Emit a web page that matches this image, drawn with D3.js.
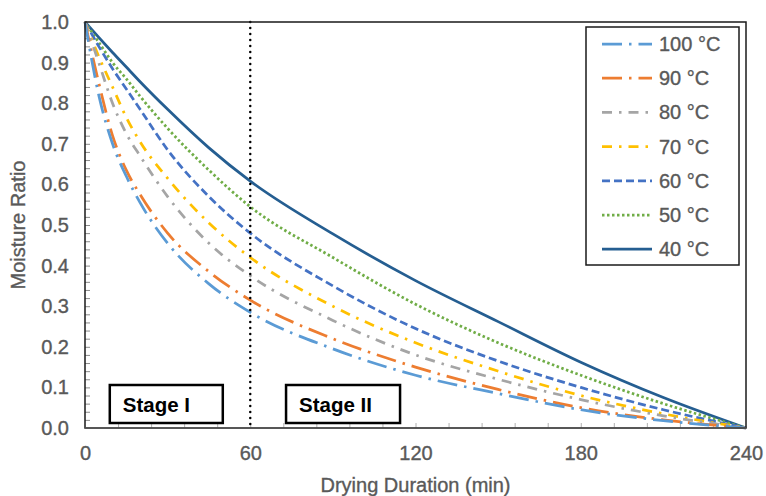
<!DOCTYPE html>
<html>
<head>
<meta charset="utf-8">
<script src="https://cdn.jsdelivr.net/npm/d3@7"></script>
<style>
  body { margin: 0; background: #fff; }
  text { font-family: "Liberation Sans", Arial, sans-serif; }
  .lbl { fill: #595959; stroke: #595959; stroke-width: 0.35px; font-size: 20px; }
</style>
</head>
<body>
<div id="chart"></div>
<script>

// drying time (min)
var times = [0, 5, 10, 15, 20, 30, 45, 60, 90, 120, 150, 180, 210, 240];

// moisture ratio per drying temperature
var mr100 = [1.0, 0.82, 0.70, 0.62, 0.555, 0.455, 0.355, 0.285, 0.195, 0.13, 0.085, 0.045, 0.018, 0];
var mr90  = [1.0, 0.85, 0.72, 0.635, 0.575, 0.48, 0.385, 0.315, 0.22, 0.15, 0.095, 0.05, 0.02, 0];
var mr80  = [1.0, 0.90, 0.80, 0.725, 0.67, 0.57, 0.455, 0.375, 0.265, 0.18, 0.12, 0.07, 0.03, 0];
var mr70  = [1.0, 0.915, 0.84, 0.765, 0.705, 0.615, 0.505, 0.42, 0.30, 0.21, 0.14, 0.08, 0.035, 0];
var mr60  = [1.0, 0.94, 0.885, 0.835, 0.785, 0.685, 0.57, 0.48, 0.35, 0.245, 0.165, 0.10, 0.045, 0];
var mr50  = [1.0, 0.95, 0.90, 0.86, 0.817, 0.738, 0.635, 0.545, 0.42, 0.305, 0.21, 0.13, 0.06, 0];
var mr40  = [1.0, 0.962, 0.925, 0.889, 0.853, 0.785, 0.69, 0.608, 0.478, 0.363, 0.262, 0.162, 0.075, 0];

var seriesNames = ["100 \u00B0C", "90 \u00B0C", "80 \u00B0C", "70 \u00B0C", "60 \u00B0C", "50 \u00B0C", "40 \u00B0C"];
var seriesValues = [mr100, mr90, mr80, mr70, mr60, mr50, mr40];

var xTicks = [0, 60, 120, 180, 240];
var yTicks = [0, 0.1, 0.2, 0.3, 0.4, 0.5, 0.6, 0.7, 0.8, 0.9, 1.0];
var stageLabels = ["Stage I", "Stage II"];

// line looks (excel style dash types)
var styles = [
  { color: "#5B9BD5", dash: "20,7,2.5,7" },
  { color: "#ED7D31", dash: "20,7,2.5,7" },
  { color: "#A5A5A5", dash: "10,7,2.5,7" },
  { color: "#FFC000", dash: "10,7,2.5,7" },
  { color: "#4472C4", dash: "8,4" },
  { color: "#70AD47", dash: "2.5,2.5" },
  { color: "#255E91", dash: null }
];

var margin = {top: 22, right: 20, bottom: 68, left: 85},
    width = 746 - margin.left,
    height = 428 - margin.top;

var svg = d3.select("#chart")
  .append("svg")
    .attr("width", 766)
    .attr("height", 496)
  .append("g")
    .attr("transform", "translate(" + margin.left + "," + margin.top + ")");

var x = d3.scaleLinear().domain([0, 240]).range([0, width]);
var y = d3.scaleLinear().domain([0, 1]).range([height, 0]);

// minor tick marks pointing into the plot
svg.append("g")
  .attr("transform", "translate(0," + height + ")")
  .call(d3.axisBottom(x).tickValues(d3.range(12, 240, 12)).tickSize(-5).tickFormat(""))
  .call(function(g) { g.select(".domain").remove(); })
  .selectAll("line").attr("stroke", "#b0b0b0").attr("stroke-width", 1);

svg.append("g")
  .call(d3.axisLeft(y).tickValues(d3.range(0.02, 1, 0.02)).tickSize(-5).tickFormat(""))
  .call(function(g) { g.select(".domain").remove(); })
  .selectAll("line").attr("stroke", "#8a8a8a").attr("stroke-width", 1);

// tick labels
var xAxis = svg.append("g")
  .attr("transform", "translate(0," + height + ")")
  .call(d3.axisBottom(x).tickValues(xTicks).tickSize(0).tickPadding(18).tickFormat(d3.format("d")));
xAxis.select(".domain").remove();

var yAxis = svg.append("g")
  .call(d3.axisLeft(y).tickValues(yTicks).tickSize(0).tickPadding(16).tickFormat(d3.format(".1f")));
yAxis.select(".domain").remove();

svg.selectAll(".tick text")
  .attr("class", "lbl")
  .attr("fill", null);

// curves
var line = d3.line()
  .x(function(d) { return x(d[0]); })
  .y(function(d) { return y(d[1]); })
  .curve(d3.curveMonotoneX);

for (var i = seriesValues.length - 1; i >= 0; i--) {
  var pts = times.map(function(t, j) { return [t, seriesValues[i][j]]; });
  svg.append("path")
    .datum(pts)
    .attr("fill", "none")
    .attr("stroke", styles[i].color)
    .attr("stroke-width", 2.75)
    .attr("stroke-dasharray", styles[i].dash)
    .attr("d", line);
}

// stage divider at 60 min
svg.append("line")
  .attr("x1", x(60)).attr("x2", x(60))
  .attr("y1", 0).attr("y2", height)
  .attr("stroke", "#000")
  .attr("stroke-width", 2.5)
  .attr("stroke-linecap", "round")
  .attr("stroke-dasharray", "0,6");

// plot frame
svg.append("rect")
  .attr("width", width).attr("height", height)
  .attr("fill", "none")
  .attr("stroke", "#1a1a1a")
  .attr("stroke-width", 1.5);

svg.append("line")
  .attr("x1", 0).attr("x2", width)
  .attr("y1", height).attr("y2", height)
  .attr("stroke", "#595959")
  .attr("stroke-width", 1.5);

// stage boxes: [left (min), width px]
var stageBoxes = [[9, 113], [73, 114]];
stageLabels.forEach(function(s, k) {
  var b = svg.append("g").attr("transform", "translate(" + x(stageBoxes[k][0]) + "," + (height - 43) + ")");
  b.append("rect")
    .attr("width", stageBoxes[k][1]).attr("height", 38)
    .attr("fill", "#fff")
    .attr("stroke", "#000")
    .attr("stroke-width", 2.5);
  b.append("text")
    .attr("x", 13).attr("y", 26.5)
    .attr("font-weight", "bold")
    .style("font-size", "20.5px")
    .attr("fill", "#000")
    .text(s);
});

// legend
var legend = svg.append("g").attr("transform", "translate(" + (586 - margin.left) + "," + (27 - margin.top) + ")");
legend.append("rect")
  .attr("width", 153).attr("height", 238)
  .attr("fill", "#fff")
  .attr("stroke", "#1a1a1a")
  .attr("stroke-width", 1.5);

seriesNames.forEach(function(n, i) {
  var yy = 17 + i * 34.2;
  legend.append("line")
    .attr("x1", 16).attr("x2", 66)
    .attr("y1", yy).attr("y2", yy)
    .attr("stroke", styles[i].color)
    .attr("stroke-width", 2.75)
    .attr("stroke-dasharray", styles[i].dash);
  legend.append("text")
    .attr("class", "lbl")
    .attr("x", 73).attr("y", yy + 7)
    .text(n);
});

// axis titles
svg.append("text")
  .attr("class", "lbl")
  .attr("x", width / 2).attr("y", height + 64)
  .attr("text-anchor", "middle")
  .text("Drying Duration (min)");

svg.append("text")
  .attr("class", "lbl")
  .attr("transform", "translate(" + (25 - margin.left) + "," + (height / 2) + ") rotate(-90)")
  .attr("text-anchor", "middle")
  .text("Moisture Ratio");

</script>
</body>
</html>
